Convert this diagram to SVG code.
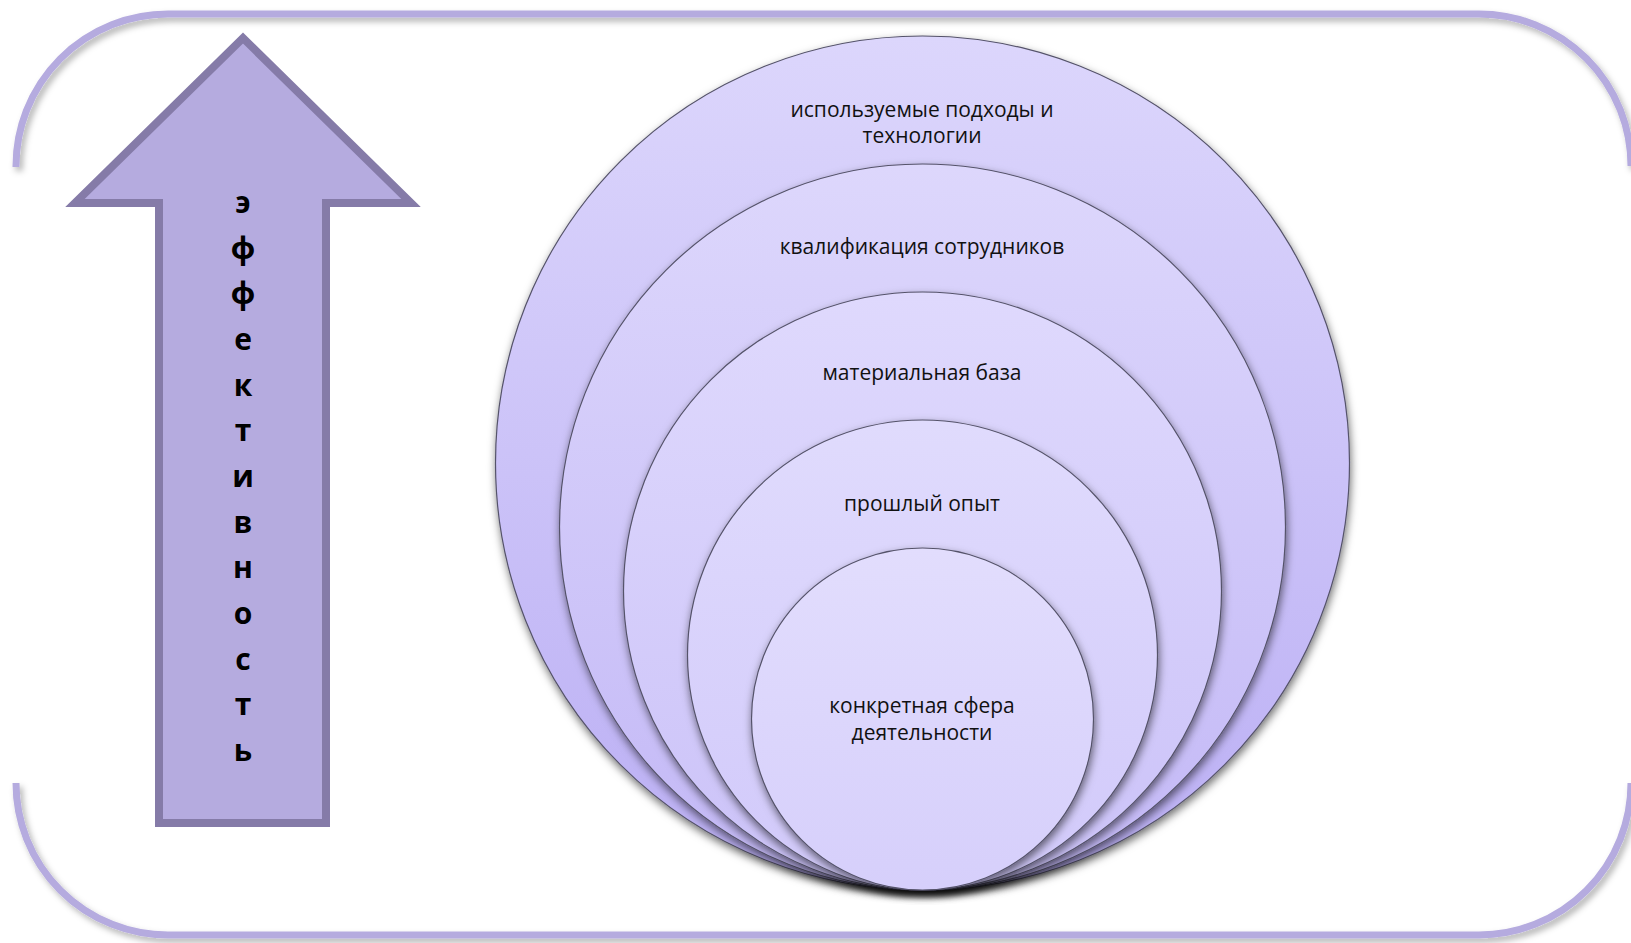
<svg xmlns="http://www.w3.org/2000/svg" width="1631" height="943" viewBox="0 0 1631 943">
<style>
.frame{fill:none;stroke:#b5abdf;stroke-width:7;}
.arrow{fill:#b5abdf;stroke:#857ba8;stroke-width:8;stroke-miterlimit:10;}
.ring{stroke:#55536a;stroke-width:1.2;filter:url(#sh);}
.lbl{font-family:"Open Sans","Noto Sans",sans-serif;font-size:21px;fill:#111;text-anchor:middle;}
.ltr{font-family:"Open Sans","DejaVu Sans",sans-serif;font-size:30px;font-weight:bold;fill:#000;text-anchor:middle;}
</style>
<defs>
<linearGradient id="g1" x1="0" y1="0" x2="0" y2="1"><stop offset="0" stop-color="#dcd6fc"/><stop offset="1" stop-color="#bbaff4"/></linearGradient>
<linearGradient id="g2" x1="0" y1="0" x2="0" y2="1"><stop offset="0" stop-color="#ddd7fc"/><stop offset="1" stop-color="#c3b8f6"/></linearGradient>
<linearGradient id="g3" x1="0" y1="0" x2="0" y2="1"><stop offset="0" stop-color="#dfd9fd"/><stop offset="1" stop-color="#cbc2f8"/></linearGradient>
<linearGradient id="g4" x1="0" y1="0" x2="0" y2="1"><stop offset="0" stop-color="#e0dbfd"/><stop offset="1" stop-color="#d1c9fa"/></linearGradient>
<linearGradient id="g5" x1="0" y1="0" x2="0" y2="1"><stop offset="0" stop-color="#e2ddfd"/><stop offset="1" stop-color="#d6cffb"/></linearGradient>
<filter id="sh" x="-10%" y="-10%" width="120%" height="125%">
<feDropShadow dx="1" dy="4" stdDeviation="4" flood-color="#000" flood-opacity="0.55"/>
</filter>
<filter id="fsh" x="-5%" y="-5%" width="110%" height="120%">
<feDropShadow dx="3" dy="4" stdDeviation="3" flood-color="#000" flood-opacity="0.3"/>
</filter>
</defs>
<rect width="1631" height="943" fill="#fff"/>
<g id="frame" filter="url(#fsh)">
<path class="frame" d="M16,167 A152,152 0 0 1 168,14 L1479,14 A152,152 0 0 1 1631,166"/>
<path class="frame" d="M16,783 A152,152 0 0 0 168,935 L1479,935 A152,152 0 0 0 1631,783"/>
</g>
<g id="arrow">
<polygon class="arrow" points="243,38 411,203 326,203 326,823 159,823 159,203 75,203"/>
<g class="ltr">
<text x="243" y="213">э</text>
<text x="243" y="259">ф</text>
<text x="243" y="304">ф</text>
<text x="243" y="350">е</text>
<text x="243" y="396">к</text>
<text x="243" y="441">т</text>
<text x="243" y="487">и</text>
<text x="243" y="533">в</text>
<text x="243" y="578">н</text>
<text x="243" y="624">о</text>
<text x="243" y="670">с</text>
<text x="243" y="715">т</text>
<text x="243" y="761">ь</text>
</g>
</g>
<g id="c1"><circle class="ring" fill="url(#g1)" cx="922.5" cy="463" r="427"/>
<text class="lbl" x="922" y="117">используемые подходы и</text>
<text class="lbl" x="922" y="143">технологии</text></g>
<g id="c2"><circle class="ring" fill="url(#g2)" cx="922.5" cy="527" r="363"/>
<text class="lbl" x="922" y="254">квалификация сотрудников</text></g>
<g id="c3"><circle class="ring" fill="url(#g3)" cx="922.5" cy="591" r="299"/>
<text class="lbl" x="922" y="380">материальная база</text></g>
<g id="c4"><circle class="ring" fill="url(#g4)" cx="922.5" cy="655" r="235"/>
<text class="lbl" x="922" y="511">прошлый опыт</text></g>
<g id="c5"><circle class="ring" fill="url(#g5)" cx="922.5" cy="719" r="171"/>
<text class="lbl" x="922" y="713">конкретная сфера</text>
<text class="lbl" x="922" y="740">деятельности</text></g>
<g id="connectors"></g>
</svg>
